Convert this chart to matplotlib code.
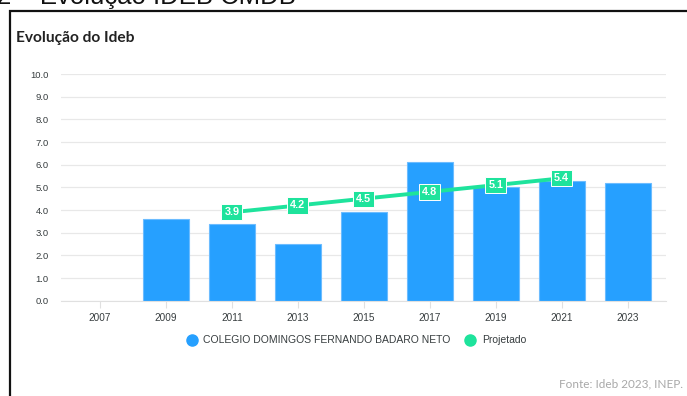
import matplotlib.pyplot as plt
from matplotlib.patches import Rectangle
from matplotlib.lines import Line2D

# data
anos = ["2007", "2009", "2011", "2013", "2015", "2017", "2019", "2021", "2023"]
ideb = [None, 3.6, 3.4, 2.5, 3.9, 6.1, 5.0, 5.3, 5.2]
proj_anos = ["2011", "2013", "2015", "2017", "2019", "2021"]
projetado = [3.9, 4.2, 4.5, 4.8, 5.1, 5.4]
y_ticks = [0, 1, 2, 3, 4, 5, 6, 7, 8, 9, 10]

azul = "#26a0ff"
verde = "#1ee39c"

fig = plt.figure(figsize=(6.87, 3.96), dpi=100)
ax = fig.add_axes([0.0888, 0.2407, 0.9694 - 0.0888, 0.8131 - 0.2407])

# bars
xs = list(range(len(anos)))
for x, v in zip(xs, ideb):
    if v is None:
        continue
    ax.bar(x, v, width=0.70, color=azul, edgecolor="#6cbcff", linewidth=0.8, zorder=2)

# projected line
px = [anos.index(a) for a in proj_anos]
ax.plot(px, projetado, color=verde, lw=2.8, zorder=3, solid_capstyle="round")
for x, v in zip(px, projetado):
    ax.text(x, v, f"{v:.1f}", ha="center", va="center", color="white",
            fontsize=7.8, fontweight="bold", family="Liberation Sans", zorder=4,
            bbox=dict(boxstyle="square,pad=0.28", fc=verde, ec="white", lw=0.7))

ax.set_xlim(-0.59, 8.58)
ax.set_ylim(0, 10)
ax.set_yticks(y_ticks)
ax.set_yticklabels([f"{t:.1f}" for t in y_ticks], family="Liberation Sans",
                   fontsize=6.8, color="#373d3f")
ax.set_xticks(xs)
ax.set_xticklabels(anos, family="Liberation Sans", fontsize=7.2, color="#373d3f")
ax.tick_params(axis="y", length=0, pad=9)
ax.tick_params(axis="x", length=5, color="#e0e0e0", pad=4)
ax.grid(axis="y", color="#e8e8e8", lw=0.9, zorder=0)
for s in ["top", "right", "left"]:
    ax.spines[s].set_visible(False)
ax.spines["bottom"].set_color("#e0e0e0")
ax.set_axisbelow(True)

# legend
handles = [
    Line2D([], [], marker="o", ls="", ms=8, color=azul, label="COLEGIO DOMINGOS FERNANDO BADARO NETO"),
    Line2D([], [], marker="o", ls="", ms=8, color=verde, label="Projetado"),
]
fig.legend(handles=handles, loc="center", bbox_to_anchor=(0.515, 0.141), ncol=2,
           frameon=False, prop={"family": "Liberation Sans", "size": 7.5},
           handletextpad=0.1, columnspacing=0.9, labelcolor="#373d3f")

# titles and border
fig.text(0.023, 0.893, "Evolução do Ideb", fontsize=11.2, fontweight="bold",
         family="Lato", color="#222222")
fig.text(-0.005, 0.99, "2 – Evolução IDEB CMDB", fontsize=18.5, family="Liberation Sans",
         color="#111111", va="baseline")
fig.text(0.994, 0.022, "Fonte: Ideb 2023, INEP.", fontsize=8.5, family="Lato",
         color="#a8a8a8", ha="right")
fig.patches.append(Rectangle((0.0145, -0.1), 1.1, 0.1 + 1 - 11.5 / 396,
                             transform=fig.transFigure, fill=False,
                             ec="#111111", lw=1.6))

fig.savefig("out.png", dpi=100)
